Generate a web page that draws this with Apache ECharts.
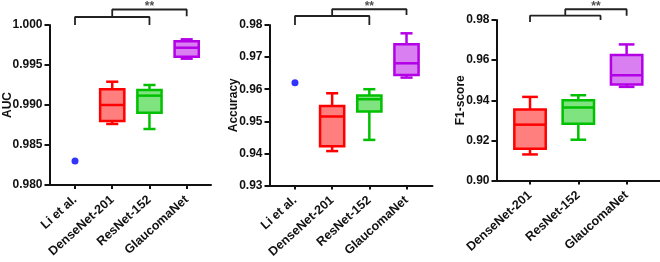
<!DOCTYPE html>
<html>
<head>
<meta charset="utf-8">
<script src="https://cdn.jsdelivr.net/npm/echarts@6/dist/echarts.min.js"></script>
<style>
  html, body { margin: 0; padding: 0; background: #fff; }
  #main { width: 660px; height: 262px; }
</style>
</head>
<body>
<div id="main"></div>
<script>
// categories
const fourCategories = ['Li et al.', 'DenseNet-201', 'ResNet-152', 'GlaucomaNet']
const threeCategories = ['DenseNet-201', 'ResNet-152', 'GlaucomaNet']

// box stats: [min, Q1, median, Q3, max] for DenseNet-201, ResNet-152, GlaucomaNet
const aucBoxes = [
  [0.98763, 0.9880, 0.9900, 0.99196, 0.99291],
  [0.9870, 0.98904, 0.99117, 0.99188, 0.9925],
  [0.99579, 0.99604, 0.99716, 0.99796, 0.99821]
]
const accBoxes = [
  [0.94072, 0.94219, 0.9515, 0.95479, 0.95873],
  [0.94421, 0.95303, 0.95687, 0.958, 0.96],
  [0.96361, 0.96444, 0.96807, 0.97398, 0.97741]
]
const f1Boxes = [
  [0.913, 0.91583, 0.92783, 0.93533, 0.94167],
  [0.92033, 0.92833, 0.93633, 0.94, 0.9425],
  [0.94667, 0.94783, 0.9525, 0.9625, 0.96783]
]

// single values for Li et al.
const liAuc = 0.983
const liAcc = 0.962

// significance brackets (category index, value)
const aucBracketLow = [[0, 1.0], [0, 1.001], [2, 1.001], [2, 1.0]]
const aucBracketHigh = [[1, 1.001], [1, 1.00194], [3, 1.00194], [3, 1.0011]]
const aucStars = [[2, 1.00225]]
const accBracketLow = [[0, 0.98], [0, 0.98281], [2, 0.98281], [2, 0.98]]
const accBracketHigh = [[1, 0.98281], [1, 0.98491], [3, 0.98491], [3, 0.98313]]
const accStars = [[2, 0.98563]]
const f1BracketLow = [[0, 0.979], [0, 0.98215], [1.46, 0.98215], [1.46, 0.98]]
const f1BracketHigh = [[0.73, 0.98215], [0.73, 0.98535], [2, 0.98535], [2, 0.98215]]
const f1Stars = [[1.365, 0.9866]]

const boxStroke = ['#ff0000', '#00c000', '#b400e6']
const boxFill = ['rgba(255,0,0,0.5)', 'rgba(0,200,0,0.5)', 'rgba(180,0,230,0.5)']

const font = 'Liberation Sans, Arial, sans-serif'
const textColor = '#111'

function renderBox(params, api) {
  const x = api.value(0)
  const pMin = api.coord([x, api.value(1)])
  const pQ1 = api.coord([x, api.value(2)])
  const pMed = api.coord([x, api.value(3)])
  const pQ3 = api.coord([x, api.value(4)])
  const pMax = api.coord([x, api.value(5)])
  const unit = api.size([1, 0])[0]
  const half = unit * 0.325
  const cap = half / 2
  const cx = pMed[0]
  const stroke = boxStroke[params.dataIndex]
  const lineStyle = { stroke, lineWidth: 2.5, fill: null }
  return {
    type: 'group',
    children: [
      { type: 'line', shape: { x1: cx, y1: pQ3[1], x2: cx, y2: pMax[1] }, style: lineStyle },
      { type: 'line', shape: { x1: cx, y1: pQ1[1], x2: cx, y2: pMin[1] }, style: lineStyle },
      { type: 'line', shape: { x1: cx - cap, y1: pMax[1], x2: cx + cap, y2: pMax[1] }, style: lineStyle },
      { type: 'line', shape: { x1: cx - cap, y1: pMin[1], x2: cx + cap, y2: pMin[1] }, style: lineStyle },
      {
        type: 'rect',
        shape: { x: cx - half, y: pQ3[1], width: half * 2, height: pQ1[1] - pQ3[1] },
        style: { stroke, lineWidth: 2.5, fill: boxFill[params.dataIndex] }
      },
      { type: 'line', shape: { x1: cx - half, y1: pMed[1], x2: cx + half, y2: pMed[1] }, style: lineStyle }
    ]
  }
}

function xAxis(gridIndex, min, max, names) {
  const idx = names.map((n, i) => i)
  return {
    type: 'value',
    gridIndex,
    min,
    max,
    splitLine: { show: false },
    axisLine: { show: true, onZero: false, lineStyle: { color: '#111', width: 2 } },
    axisTick: { show: true, customValues: idx, length: 4, lineStyle: { color: '#111', width: 2 } },
    axisLabel: {
      customValues: idx,
      formatter: v => names[Math.round(v)],
      rotate: 42,
      margin: 13,
      color: textColor,
      fontFamily: font,
      fontWeight: 'bold',
      fontSize: 12.5
    }
  }
}

function yAxis(gridIndex, name, min, max, interval, digits, nameGap) {
  return {
    type: 'value',
    gridIndex,
    name,
    nameLocation: 'middle',
    nameGap,
    nameMoveOverlap: false,
    nameTextStyle: { color: textColor, fontFamily: font, fontWeight: 'bold', fontSize: 12 },
    min,
    max,
    interval,
    splitLine: { show: false },
    axisLine: { show: true, onZero: false, lineStyle: { color: '#111', width: 2 } },
    axisTick: { show: true, length: 5, lineStyle: { color: '#111', width: 2 } },
    axisLabel: {
      formatter: v => v.toFixed(digits),
      margin: 7,
      color: textColor,
      fontFamily: font,
      fontWeight: 'bold',
      fontSize: 12
    }
  }
}

function boxSeries(i, stats, offset) {
  return {
    type: 'custom',
    xAxisIndex: i,
    yAxisIndex: i,
    renderItem: renderBox,
    data: stats.map((s, k) => [k + offset].concat(s)),
    z: 3
  }
}

function bracketSeries(i, pts) {
  return {
    type: 'line',
    xAxisIndex: i,
    yAxisIndex: i,
    data: pts,
    clip: false,
    symbol: 'none',
    silent: true,
    lineStyle: { color: '#222', width: 1.8 },
    z: 4
  }
}

function starSeries(i, pts) {
  return {
    type: 'scatter',
    xAxisIndex: i,
    yAxisIndex: i,
    data: pts,
    clip: false,
    symbolSize: 0,
    silent: true,
    label: {
      show: true,
      position: 'inside',
      formatter: '**',
      color: '#222',
      fontFamily: font,
      fontWeight: 'bold',
      fontSize: 12
    }
  }
}

function pointSeries(i, value) {
  return {
    type: 'scatter',
    xAxisIndex: i,
    yAxisIndex: i,
    data: [[0, value]],
    symbolSize: 7,
    itemStyle: { color: '#0000ff' },
    z: 5
  }
}

const chart = echarts.init(document.getElementById('main'), null, { renderer: 'canvas' })
chart.setOption({
  animation: false,
  backgroundColor: '#fff',
  grid: [
    { left: 49.5, top: 25, width: 161.5, height: 160, containLabel: false, outerBoundsMode: 'none' },
    { left: 269.5, top: 25, width: 163, height: 160.5, containLabel: false, outerBoundsMode: 'none' },
    { left: 496.5, top: 20, width: 163.5, height: 160.5, containLabel: false, outerBoundsMode: 'none' }
  ],
  xAxis: [
    xAxis(0, -0.685, 3.653, fourCategories),
    xAxis(1, -0.685, 3.699, fourCategories),
    xAxis(2, -0.694, 2.691, threeCategories)
  ],
  yAxis: [
    yAxis(0, 'AUC', 0.98, 1.0, 0.005, 3, 36),
    yAxis(1, 'Accuracy', 0.93, 0.98, 0.01, 2, 30),
    yAxis(2, 'F1-score', 0.90, 0.98, 0.02, 2, 30)
  ],
  series: [
    boxSeries(0, aucBoxes, 1),
    pointSeries(0, liAuc),
    bracketSeries(0, aucBracketLow),
    bracketSeries(0, aucBracketHigh),
    starSeries(0, aucStars),
    boxSeries(1, accBoxes, 1),
    pointSeries(1, liAcc),
    bracketSeries(1, accBracketLow),
    bracketSeries(1, accBracketHigh),
    starSeries(1, accStars),
    boxSeries(2, f1Boxes, 0),
    bracketSeries(2, f1BracketLow),
    bracketSeries(2, f1BracketHigh),
    starSeries(2, f1Stars)
  ]
})
</script>
</body>
</html>
